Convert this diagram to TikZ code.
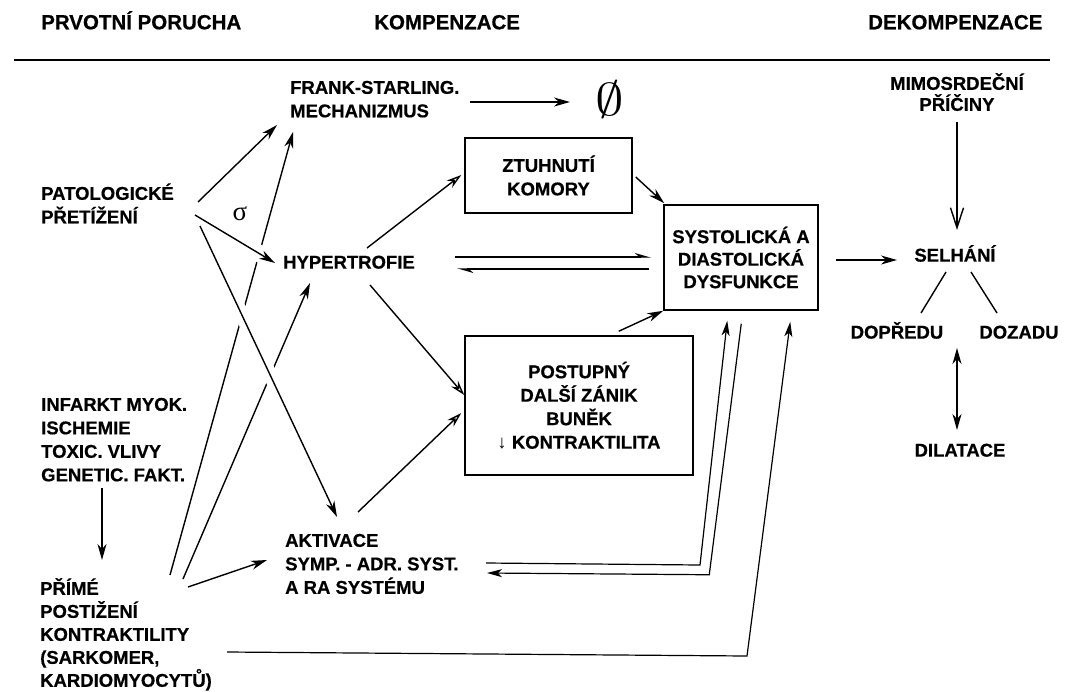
\documentclass[tikz,border=0pt]{standalone}
\usepackage{fontspec}
\setmainfont{Liberation Sans}[BoldFeatures={FakeBold=0.6}]
\newfontfamily\serifgr{Liberation Serif}
\usetikzlibrary{arrows.meta}
\newcommand\bodyfont{\fontsize{18.5}{23.5}\selectfont\bfseries}
\newcommand\headfont{\fontsize{20.5}{24}\selectfont\bfseries}
\newcommand\fl{\rule{0pt}{18pt}}
\begin{document}
\begin{tikzpicture}[x=1pt,y=-1pt,
  every node/.style={inner sep=0pt, font=\bodyfont},
  head/.style={font=\headfont, anchor=base west},
  txt/.style={align=left, anchor=north west},
  box/.style={draw, line width=1.5pt, align=center},
  ln/.style={line width=1.4pt},
  thin/.style={line width=1.2pt},
  arr/.style={ln, -{Stealth[length=16pt,width=9pt,inset=5pt]}},
  arro/.style={ln, -{Stealth[length=15pt,width=9pt,inset=5pt,open]}},
  barb/.style={ln, -{Straight Barb[length=20pt,width=13pt]}},
  harp/.style={ln, -{Stealth[harpoon,length=14pt,width=8pt]}},
  dbl/.style={ln, {Stealth[length=16pt,width=9pt,inset=5pt]}-{Stealth[length=16pt,width=9pt,inset=5pt]}},
  halo/.style={preaction={draw=white, line width=#1, -, shorten <=20pt, shorten >=8pt}}]
\useasboundingbox (0,0) rectangle (1068,691);

% headings
\node[head] (h1) at (41,29.3) {PRVOTNÍ PORUCHA};
\node[head] (h2) at (374,29.3) {KOMPENZACE};
\node[head] (h3) at (868,29.3) {DEKOMPENZACE};
\draw[line width=1.5pt] (14,60) -- (1050,60);

% nodes
\node[txt] (frank) at (290,75.6) {\fl FRANK-STARLING.\\MECHANIZMUS};
\node (empty) at (610,100) {\scalebox{2.3}[1.85]{\Huge$\emptyset$}};
\node[txt] (patol) at (41,181.6) {\fl PATOLOGICKÉ\\PŘETÍŽENÍ};
\node[font=\fontsize{27}{27}\selectfont\serifgr] (sigma) at (240,214) {σ};
\node[anchor=base west] (hyp) at (283,268.6) {HYPERTROFIE};
\node[box, minimum width=167pt, minimum height=75pt] (ztuh) at (548.5,175.5) {ZTUHNUTÍ\\KOMORY};
\node[box, minimum width=154pt, minimum height=105pt, font=\fontsize{18.5}{22.5}\selectfont\bfseries] (systol) at (741,257.5) {SYSTOLICKÁ A\\DIASTOLICKÁ\\DYSFUNKCE};
\node[box, minimum width=228pt, minimum height=139pt] (post) at (579,405.5) {POSTUPNÝ\\DALŠÍ ZÁNIK\\BUNĚK\\{\mdseries ↓} KONTRAKTILITA};
\node[txt] (infarkt) at (41,392.6) {\fl INFARKT MYOK.\\ISCHEMIE\\TOXIC. VLIVY\\GENETIC. FAKT.};
\node[txt, font=\fontsize{18.5}{23}\selectfont\bfseries] (primy) at (40,576.6) {\fl PŘÍMÉ\\POSTIŽENÍ\\KONTRAKTILITY\\(SARKOMER,\\KARDIOMYOCYTŮ)};
\node[txt] (aktiv) at (285,528.6) {\fl AKTIVACE\\SYMP. - ADR. SYST.\\A RA SYSTÉMU};
\node[align=center, anchor=north, font=\fontsize{18.5}{21}\selectfont\bfseries] (mimo) at (957,71.6) {\fl MIMOSRDEČNÍ\\PŘÍČINY};
\node[anchor=base] (selh) at (955,261.6) {SELHÁNÍ};
\node[anchor=base] (dopr) at (897,338.6) {DOPŘEDU};
\node[anchor=base] (doza) at (1019,338.6) {DOZADU};
\node[anchor=base] (dila) at (960,456.6) {DILATACE};

% connectors from PRIME (drawn first, crossed with gaps)
\draw[arr] ([shift={(130,-1.6)}]primy.north west) -- ([shift={(3,56.4)}]frank.north west);
\draw[arr] ([shift={(143,2.4)}]primy.north west) -- ([shift={(27,14.4)}]hyp.base west);
\draw[arr] ([shift={(148,10.4)}]primy.north west) -- ([shift={(-18,31.4)}]aktiv.north west);

% connectors from PATOLOGICKE
\draw[arr] ([shift={(157,20.4)}]patol.north west) -- ([shift={(-13,49.4)}]frank.north west);
\draw[arr, halo=17pt] ([shift={(154,33.4)}]patol.north west) -- ([shift={(-8,-5.6)}]hyp.base west);
\draw[arr, halo=14pt] ([shift={(159,44.4)}]patol.north west) -- ([shift={(52,-11.6)}]aktiv.north west);

% Frank-Starling
\draw[arr] ([shift={(180,26.4)}]frank.north west) -- ([shift={(-40,2)}]empty.center);

% hypertrofie
\draw[arro] ([shift={(84,-20.6)}]hyp.base west) -- ([shift={(-3,-0.5)}]ztuh.west);
\draw[arro] ([shift={(87,16.4)}]hyp.base west) -- ([shift={(0,-10.5)}]post.west);
\draw[harp] ([shift={(172,-11.6)}]hyp.base west) -- ([shift={(-12,-0.5)}]systol.west);
\draw[harp] ([shift={(-14,11.5)}]systol.west) -- ([shift={(174,0.4)}]hyp.base west);

% boxes to systolic
\draw[arr] ([shift={(3,1.5)}]ztuh.east) -- ([shift={(1,-1)}]systol.north west);
\draw[arr] ([shift={(-75,-4)}]post.north east) -- (systol.south west);
\draw[arro] ([shift={(73,-16.6)}]aktiv.north west) -- ([shift={(-3,7.5)}]post.west);

% long feedback lines
\draw[thin, -{Stealth[length=15pt,width=8pt,inset=4pt]}] ([shift={(201,34.4)}]aktiv.north west) -- ++(214,2) -- ([shift={(64,10)}]systol.south west);
\draw[thin, -{Stealth[length=15pt,width=8pt,inset=4pt]}] ([shift={(78,13)}]systol.south west) -- ++(-32,251) -- ([shift={(202,44.4)}]aktiv.north west);
\draw[thin, -{Stealth[length=15pt,width=8pt,inset=4pt]}] ([shift={(187,75.4)}]primy.north west) -- ++(520,4) -- ([shift={(127,11)}]systol.south west);

% left column
\draw[arr] ([shift={(61,95.4)}]infarkt.north west) -- ([shift={(62,-16.6)}]primy.north west);

% decompensation
\draw[arr] ([shift={(17,2.5)}]systol.east) -- ([shift={(-58,-1.6)}]selh.base);
\draw[barb] ([shift={(0,50.4)}]mimo.north) -- ([shift={(2,-31.6)}]selh.base);
\draw[ln] ([shift={(-9,10.4)}]selh.base) -- ([shift={(24,-25.6)}]dopr.base);
\draw[ln] ([shift={(16,10.4)}]selh.base) -- ([shift={(-22,-25.6)}]doza.base);
\draw[dbl] ([shift={(2,86.4)}]selh.base) -- ([shift={(-3,-26.6)}]dila.base);
\end{tikzpicture}
\end{document}
